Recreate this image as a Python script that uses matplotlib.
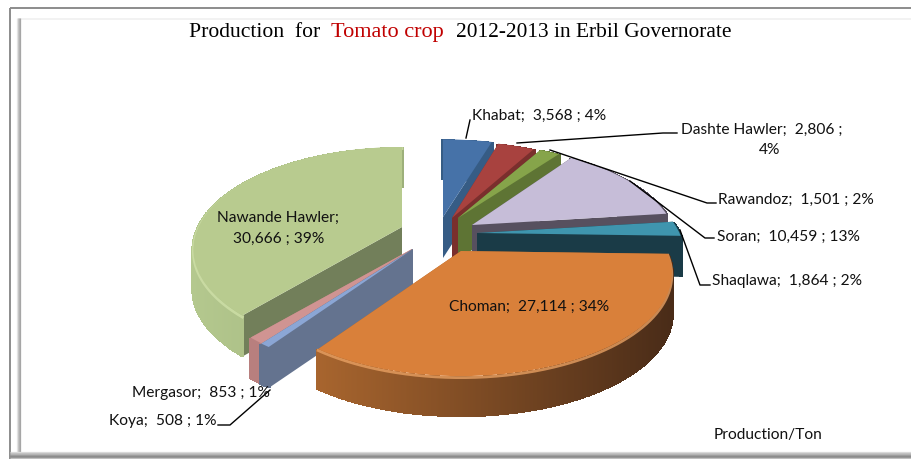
import numpy as np
import matplotlib
matplotlib.use("Agg")
import matplotlib.pyplot as plt
from matplotlib.transforms import Transform, Affine2D
from matplotlib.colors import to_rgb

# data
names = ["Khabat", "Dashte Hawler", "Rawandoz", "Soran", "Shaqlawa", "Choman", "Koya", "Mergasor", "Nawande Hawler"]
production = [3568, 2806, 1501, 10459, 1864, 27114, 508, 853, 30666]
percents = [4, 4, 2, 13, 2, 34, 1, 1, 39]

# style
top_colors = ["#4672A8", "#A8423F", "#86A44A", "#C6BDD8", "#3F95AE", "#D9803A", "#8BA6D5", "#D09492", "#B8CB8F"]
rim_left = ["#365C85", "#7A2F2D", "#5E7434", "#57505F", "#1A3B47", "#A8652E", "#64738F", "#B87F7E", "#B4C88E"]
rim_right = ["#365C85", "#7A2F2D", "#5E7434", "#57505F", "#1A3B47", "#4A2C18", "#64738F", "#B87F7E", "#9DB07A"]
face_colors = ["#365C85", "#7A2F2D", "#5E7434", "#57505F", "#1A3B47", "#A8652E", "#64738F", "#B87F7E", "#727F5A"]
bevel_colors = {5: "#E8A062", 8: "#CFE0A8"}
apex_px = [(443, 217), (452, 218), (458, 218), (472, 225), (477, 233), (461, 251), (413, 249), (412, 249), (402, 227)]
scale_x = [1, 0.95, 0.96, 0.947, 0.955, 0.97, 0.98, 0.97, 0.96]
scale_y = [0.97, 0.96, 0.95, 1, 1, 1, 1, 1, 1]
draw_order = [0, 1, 2, 3, 4, 8, 7, 6, 5]

RX = 212
RY = 97.6
PERSP = 0.22
DEPTH = 41


def tilt(u, v):
    d = 1 + PERSP * v
    return u * RX / d, -v * RY / d


class TiltTransform(Transform):
    input_dims = 2
    output_dims = 2
    has_inverse = False

    def transform_non_affine(self, values):
        values = np.asarray(values)
        x, y = tilt(values[:, 0], values[:, 1])
        return np.column_stack([x, y])


W, H = 912, 459
fig = plt.figure(figsize=(W / 100, H / 100), dpi=100, facecolor="white")
ax = fig.add_axes([0, 0, 1, 1])

wedges, _ = ax.pie(production, startangle=90, counterclock=False, colors=top_colors, radius=1)
ax.set_aspect("auto")
ax.set_xlim(0, W)
ax.set_ylim(H, 0)
ax.axis("off")

for z, i in enumerate(draw_order):
    w = wedges[i]
    ax_, ay_ = apex_px[i]
    base = 2 + z * 2
    t = np.radians(np.linspace(w.theta1, w.theta2, 500))
    x, y = tilt(np.cos(t), np.sin(t))
    x = x * scale_x[i] + ax_
    y = y * scale_y[i] + ay_

    # flat cut faces
    for k in (0, -1):
        ax.fill([ax_, x[k], x[k], ax_], [ay_, y[k], y[k] + DEPTH, ay_ + DEPTH],
                color=face_colors[i], lw=0, zorder=base)

    # rim, shaded from left to right
    c1, c2 = np.array(to_rgb(rim_left[i])), np.array(to_rgb(rim_right[i]))
    f = (x - x.min()) / max(x.max() - x.min(), 1)
    cols = c1[None, :] * (1 - f[:, None]) + c2[None, :] * f[:, None]
    ax.vlines(x, y, y + DEPTH, colors=cols, lw=1.5, antialiased=False, zorder=base + 0.2)

    # soft bevel just under the top edge
    if i in bevel_colors:
        ax.plot(x, y + 1.5, color=bevel_colors[i], lw=2.0, alpha=0.8, zorder=base + 0.3)

    w.set_transform(TiltTransform() + Affine2D().scale(scale_x[i], scale_y[i]).translate(ax_, ay_) + ax.transData)
    w.set_clip_on(False)
    w.set_linewidth(0)
    w.set_zorder(base + 0.5)

# frame
frame = dict(zorder=1, solid_capstyle="butt")
ax.plot([10, 10], [8, H], color="#8c8c8c", lw=1.4, **frame)
ax.plot([10, W], [8, 8], color="#8c8c8c", lw=1.4, **frame)
ax.plot([18, W], [18.5, 18.5], color="#f2f2f2", lw=1.4, **frame)
for px, c in zip([17, 18, 19, 20], ["#e6e6e6", "#c8c8c8", "#b4b4b4", "#a6a6a6"]):
    ax.plot([px, px], [18, 452], color=c, lw=0.9, **frame)
for py, c in zip([452, 453, 454, 455, 456, 457, 458], ["#dddddd", "#c4c4c4", "#b8b8b8", "#a0a0a0", "#8c8c8c", "#909090", "#c0c0c0"]):
    ax.plot([10, W], [py, py], color=c, lw=0.9, **frame)

# title
title_font = dict(family="Liberation Serif", va="center", ha="left", zorder=60)
ax.text(189, 32.5, "Production  for", color="black", fontsize=15.6, **title_font)
ax.text(331, 32.5, "Tomato crop", color="#C00000", fontsize=16, **title_font)
ax.text(456, 32.5, "2012-2013 in Erbil Governorate", color="black", fontsize=15.4, **title_font)


def label(i):
    return f"{names[i]};  {production[i]:,} ; {percents[i]}%"


lab = dict(family="Lato", fontsize=11.2, color="#111111", va="center", zorder=60)
ax.text(472, 115.5, label(0), ha="left", **lab)
ax.text(681, 129.5, f"{names[1]};  {production[1]:,} ;", ha="left", **lab)
ax.text(770, 149.5, f"{percents[1]}%", ha="center", **lab)
ax.text(718, 199.5, label(2), ha="left", **lab)
ax.text(717, 236.5, label(3), ha="left", **lab)
ax.text(712, 281.5, label(4), ha="left", **lab)
ax.text(449, 306.5, label(5), ha="left", **lab)
ax.text(217, 421.5, label(6), ha="right", **lab)
ax.text(270, 392.5, label(7), ha="right", **lab)
ax.text(278, 217.5, f"{names[8]};", ha="center", **lab)
ax.text(279, 238.5, f"{production[8]:,} ; {percents[8]}%", ha="center", **lab)
ax.text(714, 435.5, "Production/Ton", ha="left", **lab)

# leader lines
leaders = [
    ([466, 470], [138, 120]),
    ([517, 663, 677], [143, 133, 133]),
    ([550, 707, 716], [150, 203, 203]),
    ([630, 705, 714], [181, 238, 238]),
    ([680, 700, 710], [230, 285, 285]),
    ([218, 230, 270], [425, 425, 390]),
]
for lx, ly in leaders:
    ax.plot(lx, ly, color="black", lw=1.0, zorder=55)

fig.savefig("out.png", dpi=100)
